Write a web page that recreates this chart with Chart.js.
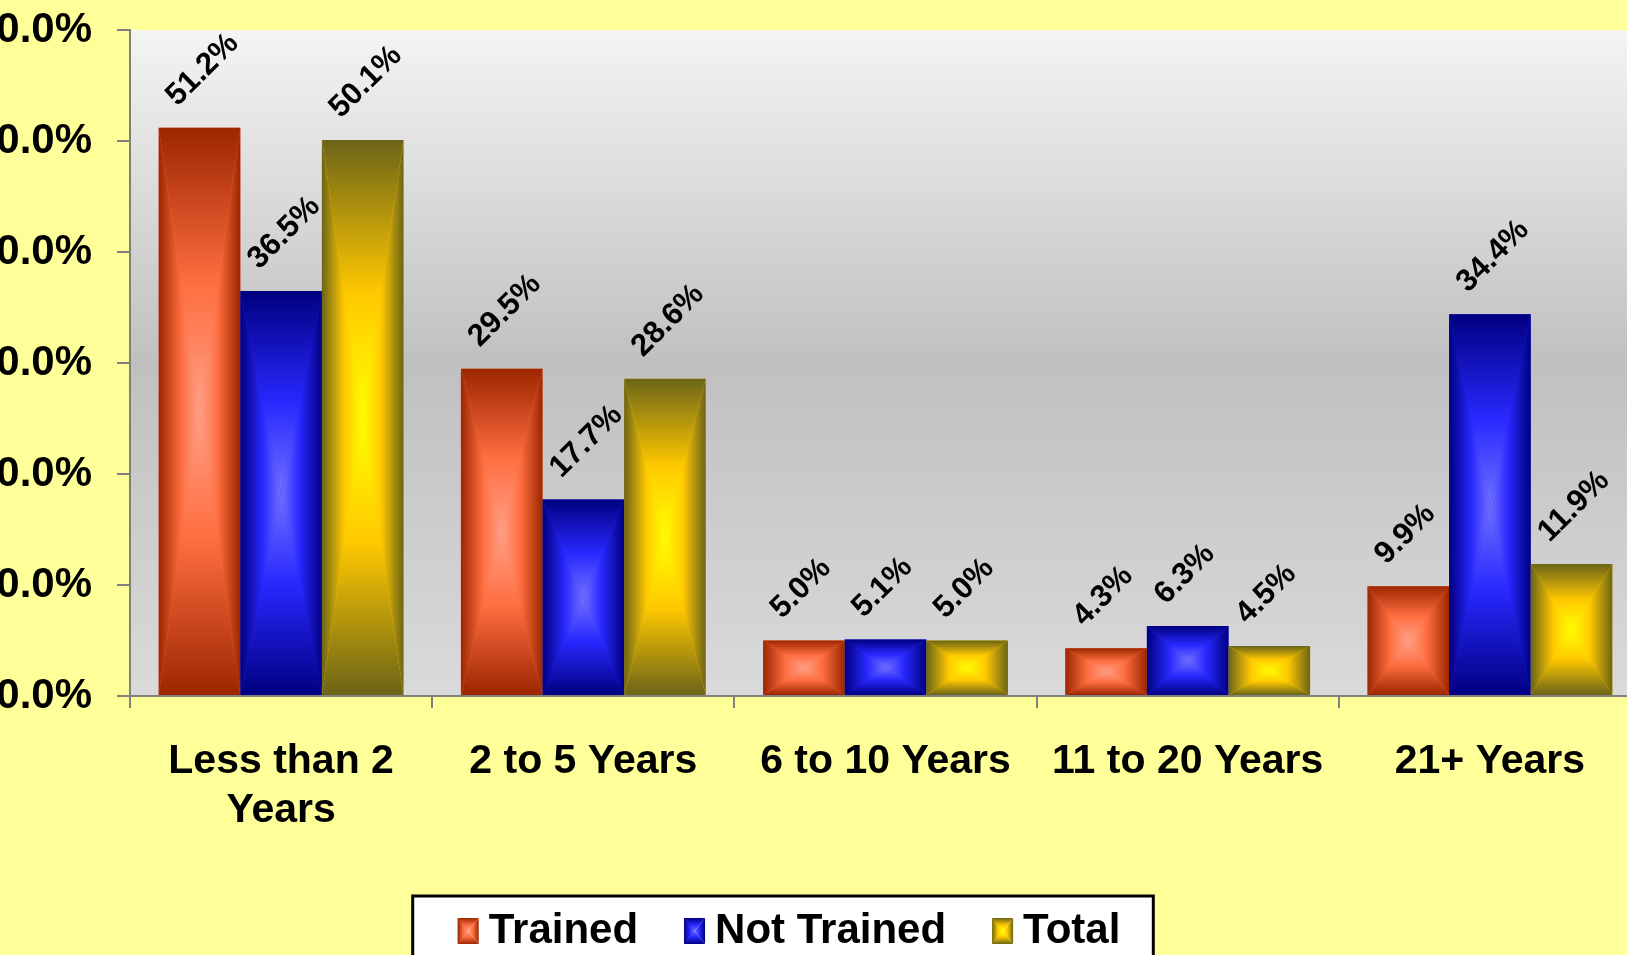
<!DOCTYPE html>
<html>
<head>
<meta charset="utf-8">
<title>Years of experience</title>
<script src="https://cdn.jsdelivr.net/npm/chart.js@4"></script>
<style>
  html, body { margin: 0; padding: 0; background: #ffff99; overflow: hidden; width: 1627px; height: 955px; }
  #grafico { position: absolute; left: -63px; top: -20px; }
</style>
</head>
<body>
<canvas id="grafico" width="1704" height="982"></canvas>
<script>
// Datos del grafico
const categorias = [['Less than 2', 'Years'], '2 to 5 Years', '6 to 10 Years', '11 to 20 Years', '21+ Years'];
const series = ['Trained', 'Not Trained', 'Total'];
const entrenados = [51.2, 29.5, 5.0, 4.3, 9.9];
const noEntrenados = [36.5, 17.7, 5.1, 6.3, 34.4];
const totales = [50.1, 28.6, 5.0, 4.5, 11.9];
const ticksY = [0, 10, 20, 30, 40, 50, 60];

// Colores de cada serie: borde oscuro, medio, centro claro
const colores = [
    ['#9c2600', '#ff6e40', '#ffa088'],
    ['#000080', '#2828ff', '#7070ff'],
    ['#6b6418', '#ffc800', '#ffff00']
];
const fuente = '"Liberation Sans", Arial, sans-serif';

// Degradado rectangular desde el centro (4 triangulos)
function almohada(ctx, x0, y0, x1, y1, cols) {
    const [oscuro, medio, claro] = cols;
    const cx = (x0 + x1) / 2, cy = (y0 + y1) / 2;
    const lados = [
        [[x0, y0], [x1, y0], [x0, y0, x0, cy]],
        [[x1, y1], [x0, y1], [x0, y1, x0, cy]],
        [[x0, y1], [x0, y0], [x0, y0, cx, y0]],
        [[x1, y0], [x1, y1], [x1, y0, cx, y0]]
    ];
    lados.forEach(([a, b, gr]) => {
        const g = ctx.createLinearGradient(gr[0], gr[1], gr[2], gr[3]);
        g.addColorStop(0, oscuro);
        g.addColorStop(0.55, medio);
        g.addColorStop(1, claro);
        ctx.beginPath();
        ctx.moveTo(a[0], a[1]);
        ctx.lineTo(b[0], b[1]);
        ctx.lineTo(cx, cy);
        ctx.closePath();
        ctx.fillStyle = g;
        ctx.fill();
    });
}

// Fondo amarillo, degradado del area y cuadro de la leyenda
const fondo = {
    id: 'fondo',
    beforeDraw(chart) {
        const ctx = chart.ctx;
        const a = chart.chartArea;
        ctx.save();
        ctx.fillStyle = '#ffff99';
        ctx.fillRect(0, 0, chart.width, chart.height);

        const g = ctx.createLinearGradient(0, a.top, 0, a.bottom);
        g.addColorStop(0, '#f4f4f4');
        g.addColorStop(0.5, '#c0c0c0');
        g.addColorStop(1, '#dadada');
        ctx.fillStyle = g;
        ctx.fillRect(a.left, a.top, a.right - a.left, a.bottom - a.top);

        const cajas = chart.legend.legendHitBoxes;
        if (cajas && cajas.length) {
            const ultima = cajas[cajas.length - 1];
            const izq = cajas[0].left - 45;
            const der = ultima.left + ultima.width + 33;
            const arriba = cajas[0].top - 14;
            ctx.fillStyle = '#ffffff';
            ctx.fillRect(izq, arriba, der - izq, chart.height);
            ctx.strokeStyle = '#000000';
            ctx.lineWidth = 3;
            ctx.strokeRect(izq, arriba, der - izq, chart.height);
        }
        ctx.restore();
    }
};

// Sombreado sobre cada barra y sobre los cuadritos de la leyenda
const relieve = {
    id: 'relieve',
    afterDatasetsDraw(chart) {
        const ctx = chart.ctx;
        ctx.save();
        chart.data.datasets.forEach((ds, i) => {
            chart.getDatasetMeta(i).data.forEach(barra => {
                const p = barra.getProps(['x', 'y', 'base', 'width'], true);
                almohada(ctx, p.x - p.width / 2, Math.min(p.y, p.base), p.x + p.width / 2, Math.max(p.y, p.base), colores[i]);
            });
        });
        // el cuadrito de la leyenda es mas ancho que el boxWidth para acercar el texto
        const cajas = chart.legend.legendHitBoxes || [];
        cajas.forEach((hb, i) => {
            const y0 = hb.top + (hb.height - 26) / 2;
            almohada(ctx, hb.left, y0, hb.left + 21, y0 + 26, colores[i]);
        });
        ctx.restore();
    }
};

// Etiquetas de valor giradas 45 grados
const etiquetas = {
    id: 'etiquetas',
    afterDatasetsDraw(chart) {
        const ctx = chart.ctx;
        ctx.save();
        ctx.font = 'bold 31px ' + fuente;
        ctx.fillStyle = '#000000';
        ctx.textAlign = 'left';
        ctx.textBaseline = 'middle';
        chart.data.datasets.forEach((ds, i) => {
            chart.getDatasetMeta(i).data.forEach((barra, j) => {
                const p = barra.getProps(['x', 'y'], true);
                ctx.save();
                ctx.translate(p.x - 28, p.y - 27);
                ctx.rotate(-Math.PI / 4);
                ctx.fillText(ds.data[j].toFixed(1) + '%', 0, 0);
                ctx.restore();
            });
        });
        ctx.restore();
    }
};

const datos = [entrenados, noEntrenados, totales];

new Chart(document.getElementById('grafico'), {
    type: 'bar',
    data: {
        labels: categorias,
        datasets: series.map((nombre, i) => ({
            label: nombre,
            data: datos[i],
            backgroundColor: colores[i][1],
            borderColor: colores[i][0],
            borderWidth: 0
        }))
    },
    options: {
        responsive: false,
        animation: false,
        events: [],
        layout: { padding: { left: 0, right: 0, top: 9, bottom: 0 } },
        datasets: { bar: { barPercentage: 1, categoryPercentage: 0.81 } },
        plugins: {
            tooltip: { enabled: false },
            legend: {
                position: 'bottom',
                labels: {
                    boxWidth: 10,
                    boxHeight: 26,
                    padding: 46,
                    color: '#000000',
                    font: { family: fuente, size: 42, weight: 'bold' }
                }
            }
        },
        scales: {
            x: {
                grid: { offset: true, drawOnChartArea: false, tickLength: 12, color: '#808080', lineWidth: 2 },
                border: { color: '#808080', width: 2 },
                ticks: {
                    color: '#000000',
                    padding: 29,
                    maxRotation: 0,
                    autoSkip: false,
                    font: { family: fuente, size: 41, weight: 'bold' }
                },
                afterFit: s => { s.height = 168; }
            },
            y: {
                min: 0,
                max: 60,
                afterBuildTicks: s => { s.ticks = ticksY.map(v => ({ value: v })); },
                grid: { drawOnChartArea: false, tickLength: 13, color: '#808080', lineWidth: 2 },
                border: { color: '#808080', width: 2 },
                ticks: {
                    color: '#000000',
                    padding: 25,
                    font: { family: fuente, size: 42, weight: 'bold' },
                    callback: v => v.toFixed(1) + '%'
                },
                afterFit: s => { s.width = 193; }
            }
        }
    },
    plugins: [fondo, relieve, etiquetas]
});
</script>
</body>
</html>
